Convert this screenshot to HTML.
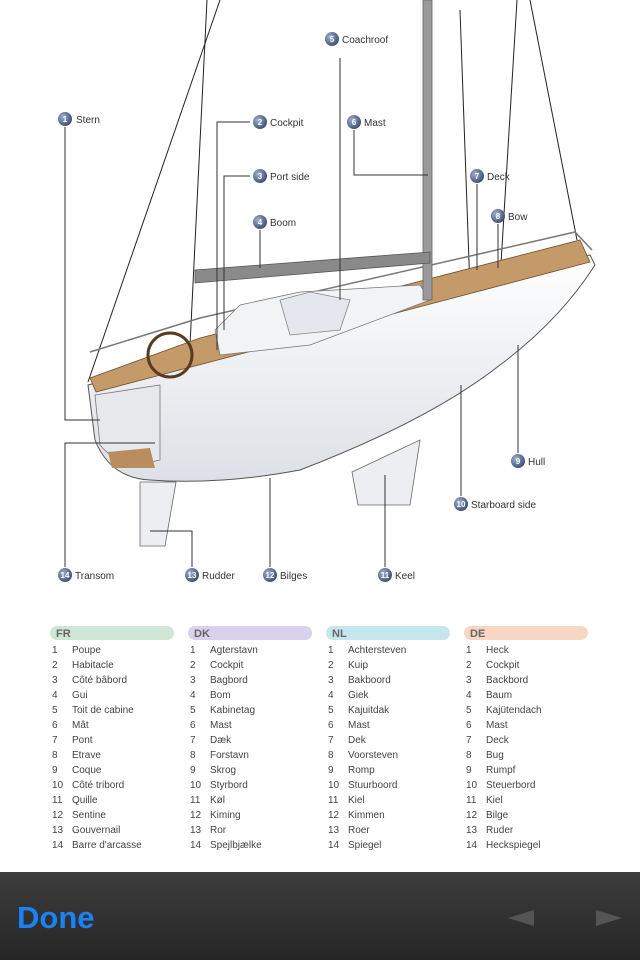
<!DOCTYPE html>
<html style="margin:0;width:640px;height:960px;overflow:hidden"><head><meta charset="utf-8"><style>
body{margin:0;width:640px;height:960px;background:#fff;overflow:hidden}
svg{display:block}
</style></head><body>
<svg width="640" height="960" viewBox="0 0 640 960" font-family="Liberation Sans, sans-serif">
<defs><radialGradient id="g" cx="0.35" cy="0.35" r="0.8"><stop offset="0" stop-color="#9fb0d0"/><stop offset="1" stop-color="#2e3f66"/></radialGradient>
<linearGradient id="h" x1="0" y1="0" x2="0" y2="1"><stop offset="0" stop-color="#fff"/><stop offset="1" stop-color="#dde0e6"/></linearGradient>
<linearGradient id="b" x1="0" y1="0" x2="0" y2="1"><stop offset="0" stop-color="#3d3d3d"/><stop offset="1" stop-color="#262626"/></linearGradient></defs>
<g stroke="#222" stroke-width="1" fill="none">
<line x1="220" y1="0" x2="88" y2="382"/><line x1="207" y1="0" x2="190" y2="345"/>
<line x1="460" y1="10" x2="470" y2="290"/><line x1="530" y1="0" x2="577" y2="240"/><line x1="517" y1="0" x2="500" y2="280"/>
</g>
<path d="M88 385 L590 255 L595 265 Q560 320 500 365 Q430 420 300 470 Q220 485 150 480 Q110 478 95 440 Z" fill="url(#h)" stroke="#555" stroke-width="1"/>
<path d="M95 395 L160 385 L160 460 Q120 470 100 445 Z" fill="#e6e8ec" stroke="#777" stroke-width="0.8"/>
<path d="M108 452 L150 448 L155 468 L112 468 Z" fill="#b98d5e"/>
<path d="M352 472 L420 440 L410 505 L358 505 Z" fill="#eceef2" stroke="#666" stroke-width="0.8"/>
<path d="M140 482 L176 482 L165 546 L140 546 Z" fill="#eceef2" stroke="#666" stroke-width="0.8"/>
<path d="M90 378 L200 338 L580 240 L590 262 L96 392 Z" fill="#c49a68" stroke="#6b5030" stroke-width="0.8"/>
<path d="M90 352 L200 318 L575 232 L592 250" fill="none" stroke="#777" stroke-width="1.5"/>
<path d="M215 330 L240 305 L300 292 L420 285 L430 300 L310 345 L220 355 Z" fill="#f2f3f5" stroke="#777" stroke-width="0.8"/>
<path d="M280 300 L310 292 L350 300 L340 330 L290 335 Z" fill="#e4e7ee" stroke="#888" stroke-width="0.8"/>
<circle cx="170" cy="355" r="22" fill="none" stroke="#5a3a20" stroke-width="3"/>
<rect x="423" y="0" width="9" height="300" fill="#9a9a9a" stroke="#666" stroke-width="0.8"/>
<path d="M195 270 L430 252 L430 263 L195 283 Z" fill="#8a8a8a" stroke="#555" stroke-width="0.8"/>
<g stroke="#333" stroke-width="1" fill="none">
<path d="M65 127 V420 H100"/><path d="M250 122 H217 V350"/><path d="M250 176 H224 V330"/><path d="M260 230 V268"/>
<path d="M340 58 V300"/><path d="M354 130 V175 H428"/><path d="M477 184 V270"/><path d="M498 224 V268"/>
<path d="M518 453 V345"/><path d="M461 496 V385"/><path d="M385 567 V475"/><path d="M270 567 V478"/>
<path d="M192 567 V531 H150"/><path d="M65 567 V443 H155"/>
</g>
<g font-size="10" fill="#333">
<g fill="url(#g)"><circle cx="65" cy="119" r="7"/><circle cx="260" cy="122" r="7"/><circle cx="260" cy="176" r="7"/><circle cx="260" cy="222" r="7"/><circle cx="332" cy="39" r="7"/><circle cx="354" cy="122" r="7"/><circle cx="477" cy="176" r="7"/><circle cx="498" cy="216" r="7"/><circle cx="518" cy="461" r="7"/><circle cx="461" cy="504" r="7"/><circle cx="385" cy="575" r="7"/><circle cx="270" cy="575" r="7"/><circle cx="192" cy="575" r="7"/><circle cx="65" cy="575" r="7"/></g>
<g fill="#fff" font-size="8" font-weight="bold" text-anchor="middle">
<text x="65" y="122">1</text><text x="260" y="125">2</text><text x="260" y="179">3</text><text x="260" y="225">4</text><text x="332" y="42">5</text><text x="354" y="125">6</text><text x="477" y="179">7</text><text x="498" y="219">8</text><text x="518" y="464">9</text><text x="461" y="507">10</text><text x="385" y="578">11</text><text x="270" y="578">12</text><text x="192" y="578">13</text><text x="65" y="578">14</text></g>
<text x="76" y="123">Stern</text><text x="270" y="126">Cockpit</text><text x="270" y="180">Port side</text><text x="270" y="226">Boom</text><text x="342" y="43">Coachroof</text><text x="364" y="126">Mast</text><text x="487" y="180">Deck</text><text x="508" y="220">Bow</text><text x="528" y="465">Hull</text><text x="471" y="508">Starboard side</text><text x="395" y="579">Keel</text><text x="280" y="579">Bilges</text><text x="202" y="579">Rudder</text><text x="75" y="579">Transom</text>
</g>
<rect x="50" y="626" width="124" height="14" rx="7" fill="#cfe6d6"/><rect x="188" y="626" width="124" height="14" rx="7" fill="#d8d2ec"/><rect x="326" y="626" width="124" height="14" rx="7" fill="#c6e6ee"/><rect x="464" y="626" width="124" height="14" rx="7" fill="#f9d6c4"/>
<g font-weight="bold" fill="#666" font-size="11"><text x="56" y="637">FR</text><text x="194" y="637">DK</text><text x="332" y="637">NL</text><text x="470" y="637">DE</text></g>
<g font-size="10" fill="#444" id="t"></g>
<rect x="0" y="872" width="640" height="88" fill="url(#b)"/>
<text x="17" y="928" font-size="31" font-weight="bold" fill="#1a82f7">Done</text>
<polygon points="508,918 534,910 534,926" fill="#555"/><polygon points="622,918 596,910 596,926" fill="#555"/>
</svg>
<script>
var c=[["Poupe","Habitacle","Côté bâbord","Gui","Toit de cabine","Mât","Pont","Etrave","Coque","Côté tribord","Quille","Sentine","Gouvernail","Barre d'arcasse"],
["Agterstavn","Cockpit","Bagbord","Bom","Kabinetag","Mast","Dæk","Forstavn","Skrog","Styrbord","Køl","Kiming","Ror","Spejlbjælke"],
["Achtersteven","Kuip","Bakboord","Giek","Kajuitdak","Mast","Dek","Voorsteven","Romp","Stuurboord","Kiel","Kimmen","Roer","Spiegel"],
["Heck","Cockpit","Backbord","Baum","Kajütendach","Mast","Deck","Bug","Rumpf","Steuerbord","Kiel","Bilge","Ruder","Heckspiegel"]];
var g=document.getElementById('t'),s='';
c.forEach(function(col,i){var x=50+138*i;col.forEach(function(w,j){var y=653+15*j;s+='<text x="'+(x+2)+'" y="'+y+'">'+(j+1)+'</text><text x="'+(x+22)+'" y="'+y+'">'+w+'</text>';});});
g.innerHTML=s;
</script>
</body></html>
